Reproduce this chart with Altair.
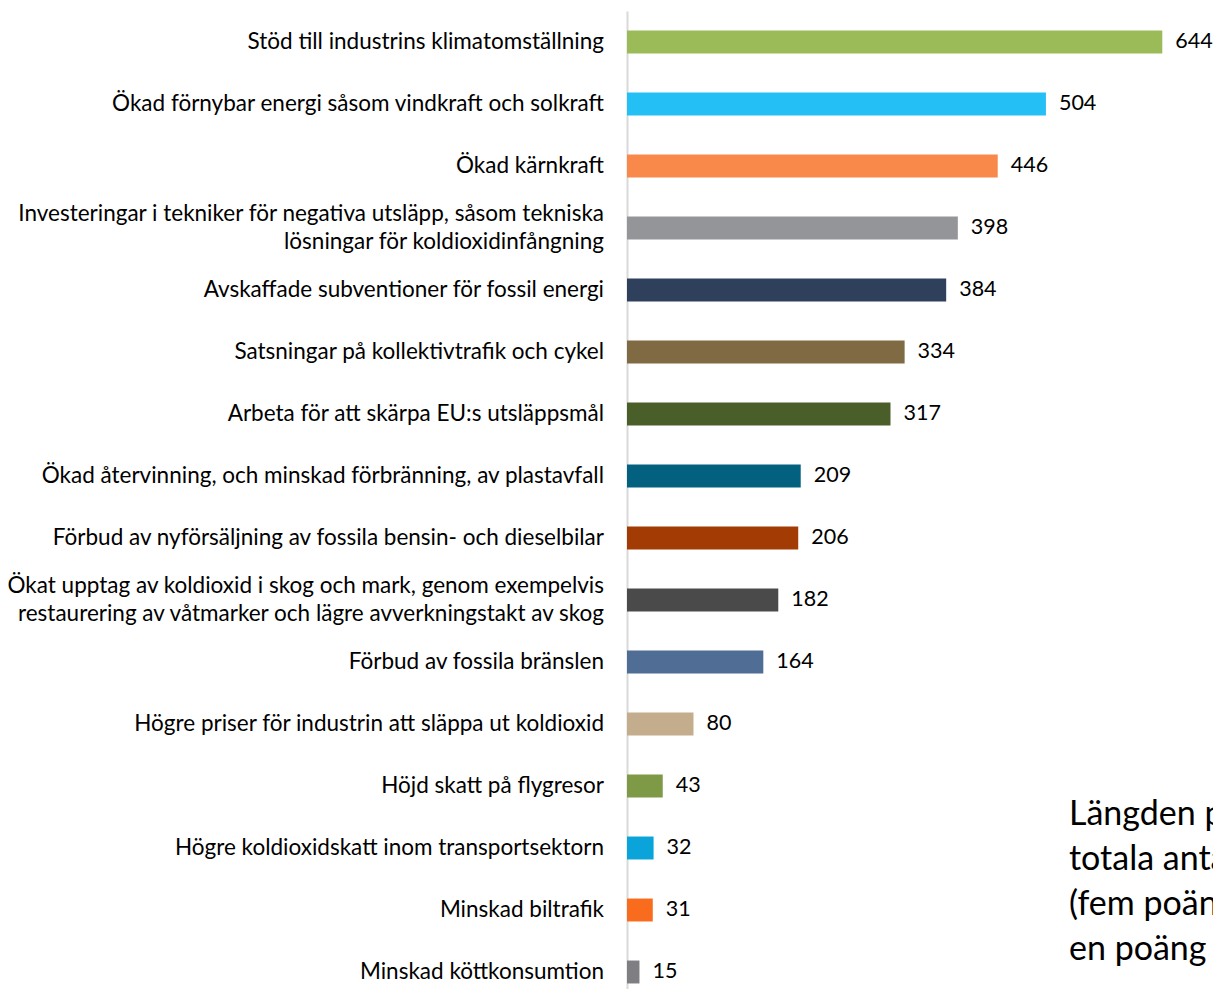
import altair as alt
import pandas as pd

categories = [
    "Stöd till industrins klimatomställning",
    "Ökad förnybar energi såsom vindkraft och solkraft",
    "Ökad kärnkraft",
    "Investeringar i tekniker för negativa utsläpp, såsom tekniska|lösningar för koldioxidinfångning",
    "Avskaffade subventioner för fossil energi",
    "Satsningar på kollektivtrafik och cykel",
    "Arbeta för att skärpa EU:s utsläppsmål",
    "Ökad återvinning, och minskad förbränning, av plastavfall",
    "Förbud av nyförsäljning av fossila bensin- och dieselbilar",
    "Ökat upptag av koldioxid i skog och mark, genom exempelvis|restaurering av våtmarker och lägre avverkningstakt av skog",
    "Förbud av fossila bränslen",
    "Högre priser för industrin att släppa ut koldioxid",
    "Höjd skatt på flygresor",
    "Högre koldioxidskatt inom transportsektorn",
    "Minskad biltrafik",
    "Minskad köttkonsumtion",
]
values = [644, 504, 446, 398, 384, 334, 317, 209, 206, 182, 164, 80, 43, 32, 31, 15]
colors = [
    "#9BBB59", "#24C0F5", "#F9894A", "#939598", "#2E405C", "#806A43",
    "#4A5E2A", "#03617F", "#A33C04", "#4A4A4A", "#4F6D95", "#C4AD8C",
    "#7E9A47", "#0AA4DB", "#F96C1E", "#7F7F83",
]
note = "Längden på staplarna visar det|totala antalet poäng|(fem poäng för förstaval,|en poäng för femteval)"

df = pd.DataFrame({"cat": categories, "value": values})

FONT = "Lato"

y = alt.Y("cat:N", sort=categories,
          scale=alt.Scale(paddingInner=0.63, paddingOuter=0.315, range=[0, 992]),
          axis=alt.Axis(labels=False, ticks=False, title=None,
                        domainColor="#d9d9d9", domainWidth=2))
x = alt.X("value:Q", scale=alt.Scale(domain=[0, 705], nice=False), axis=None)

base = alt.Chart(df)

bars = base.mark_bar().encode(
    x=x, y=y,
    color=alt.Color("cat:N", scale=alt.Scale(domain=categories, range=colors), legend=None),
)

vals = base.mark_text(align="left", baseline="middle", dx=13, font=FONT,
                      fontSize=21.5, color="#000000").encode(
    x=x, y=y, text=alt.Text("value:Q"))

labels1 = base.transform_filter("indexof(datum.cat, '|') < 0").mark_text(
    align="right", baseline="middle", font=FONT, fontSize=22.5,
    color="#000000").encode(x=alt.value(-23), y=y, text="cat:N")

labels2 = base.transform_filter("indexof(datum.cat, '|') >= 0").mark_text(
    align="right", baseline="middle", font=FONT, fontSize=22.5, dy=-14,
    color="#000000", lineBreak="|", lineHeight=28).encode(
    x=alt.value(-23), y=y, text="cat:N")

annot = alt.Chart(pd.DataFrame({"t": [note]})).mark_text(
    align="left", baseline="middle", font=FONT, fontSize=34, lineBreak="|",
    lineHeight=45, color="#000000").encode(
    x=alt.value(442), y=alt.value(804), text="t:N")

chart = alt.layer(bars, vals, labels1, labels2, annot).properties(
    width=586, height=978,
    autosize=alt.AutoSizeParams(type="none"),
    padding={"left": 619, "top": 3, "right": 0, "bottom": 0},
).configure_view(stroke=None)

chart.save("out.html", embed_options={"renderer": "svg", "actions": False})
